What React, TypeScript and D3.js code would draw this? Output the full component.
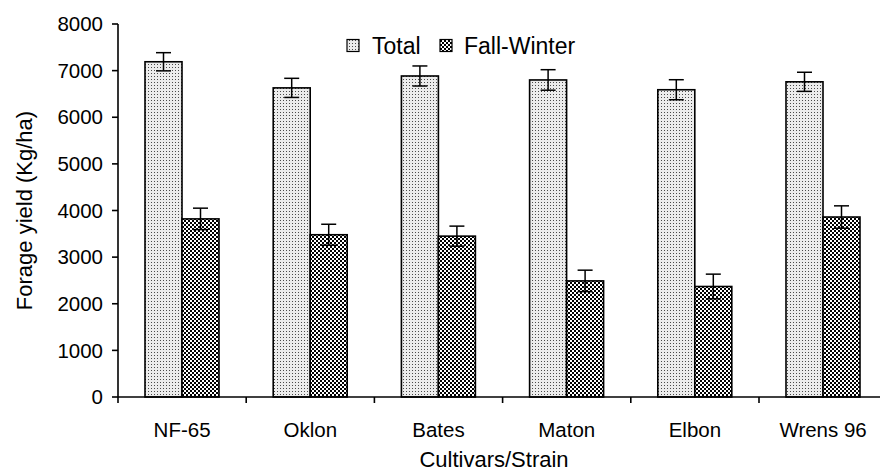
import React from "react";
import * as d3 from "d3";

const categories = ["NF-65", "Oklon", "Bates", "Maton", "Elbon", "Wrens 96"];
const seriesNames = ["Total", "Fall-Winter"];
const totalValues = [7190, 6630, 6885, 6800, 6590, 6760];
const totalErrors = [195, 205, 215, 220, 215, 205];
const fallWinterValues = [3820, 3480, 3450, 2490, 2370, 3860];
const fallWinterErrors = [230, 225, 215, 230, 265, 240];
const yTicks = [0, 1000, 2000, 3000, 4000, 5000, 6000, 7000, 8000];
const xTitle = "Cultivars/Strain";
const yTitle = "Forage yield (Kg/ha)";

const W = 880;
const H = 473;
const left = 118;
const top = 24;
const bottom = 397;
const bandW = 128.2;
const right = left + bandW * categories.length;
const FONT = "Liberation Sans, Arial, sans-serif";

export default function App() {
  const x = d3.scaleBand<string>().domain(categories).range([left, right]).paddingInner(0).paddingOuter(0);
  const y = d3.scaleLinear().domain([0, 8000]).range([bottom, top]);
  const sub = d3.scaleBand<string>().domain(seriesNames).range([27, 27 + 74]);
  const series = [
    { name: "Total", values: totalValues, errors: totalErrors, fill: "url(#patTotal)" },
    { name: "Fall-Winter", values: fallWinterValues, errors: fallWinterErrors, fill: "url(#patFW)" },
  ];
  return (
    <svg width={W} height={H} style={{ position: "absolute", left: 0, top: 0, background: "#fff" }} fontFamily={FONT}>
      <defs>
        <pattern id="patTotal" width="3" height="3" patternUnits="userSpaceOnUse">
          <rect width="3" height="3" fill="#ececec" />
          <rect x="1" y="1" width="1" height="1" fill="#4a4a4a" />
        </pattern>
        <pattern id="patFW" width="4" height="4" patternUnits="userSpaceOnUse">
          <rect width="4" height="4" fill="#fff" />
          <rect x="0" y="0" width="2" height="2" fill="#000" />
          <rect x="2" y="2" width="2" height="2" fill="#000" />
        </pattern>
      </defs>
      <rect width={W} height={H} fill="#fff" />
      {series.map((s) =>
        categories.map((c, i) => {
          const x0 = (x(c) as number) + (sub(s.name) as number);
          const bw = sub.bandwidth();
          const v = s.values[i];
          const e = s.errors[i];
          const cx = x0 + bw / 2;
          return (
            <g key={s.name + c}>
              <rect x={x0} y={y(v)} width={bw} height={bottom - y(v)} fill={s.fill} stroke="#000" strokeWidth={1.6} />
              <line x1={cx} x2={cx} y1={y(v + e)} y2={y(v - e)} stroke="#000" strokeWidth={1.5} />
              <line x1={cx - 7.5} x2={cx + 7.5} y1={y(v + e)} y2={y(v + e)} stroke="#000" strokeWidth={1.5} />
              <line x1={cx - 7.5} x2={cx + 7.5} y1={y(v - e)} y2={y(v - e)} stroke="#000" strokeWidth={1.5} />
            </g>
          );
        })
      )}
      {/* y axis */}
      <line x1={left} x2={left} y1={top} y2={bottom} stroke="#000" strokeWidth={1.6} />
      {yTicks.map((t) => (
        <g key={t}>
          <line x1={left - 6} x2={left} y1={y(t)} y2={y(t)} stroke="#000" strokeWidth={1.6} />
          <text x={left - 15} y={y(t)} dy="0.35em" textAnchor="end" fontSize={20.5}>
            {t}
          </text>
        </g>
      ))}
      {/* x axis */}
      <line x1={left} x2={right} y1={bottom} y2={bottom} stroke="#000" strokeWidth={1.6} />
      {categories.map((c) => (
        <line key={"t" + c} x1={x(c) as number} x2={x(c) as number} y1={bottom} y2={bottom + 6} stroke="#000" strokeWidth={1.6} />
      ))}
      <line x1={right} x2={right} y1={bottom} y2={bottom + 6} stroke="#000" strokeWidth={1.6} />
      {categories.map((c) => (
        <text key={"l" + c} x={(x(c) as number) + bandW / 2} y={437} textAnchor="middle" fontSize={20.5}>
          {c}
        </text>
      ))}
      <text x={494} y={467} textAnchor="middle" fontSize={22}>
        {xTitle}
      </text>
      <text transform={`translate(32,${(top + bottom) / 2}) rotate(-90)`} textAnchor="middle" fontSize={22}>
        {yTitle}
      </text>
      {/* legend */}
      {[
        { name: seriesNames[0], fill: "url(#patTotal)", ix: 347, tx: 372 },
        { name: seriesNames[1], fill: "url(#patFW)", ix: 440, tx: 464 },
      ].map((l) => (
        <g key={l.name}>
          <rect x={l.ix} y={39.5} width={12} height={12} fill={l.fill} stroke="#000" strokeWidth={1.2} />
          <text x={l.tx} y={54} fontSize={23}>
            {l.name}
          </text>
        </g>
      ))}
    </svg>
  );
}
